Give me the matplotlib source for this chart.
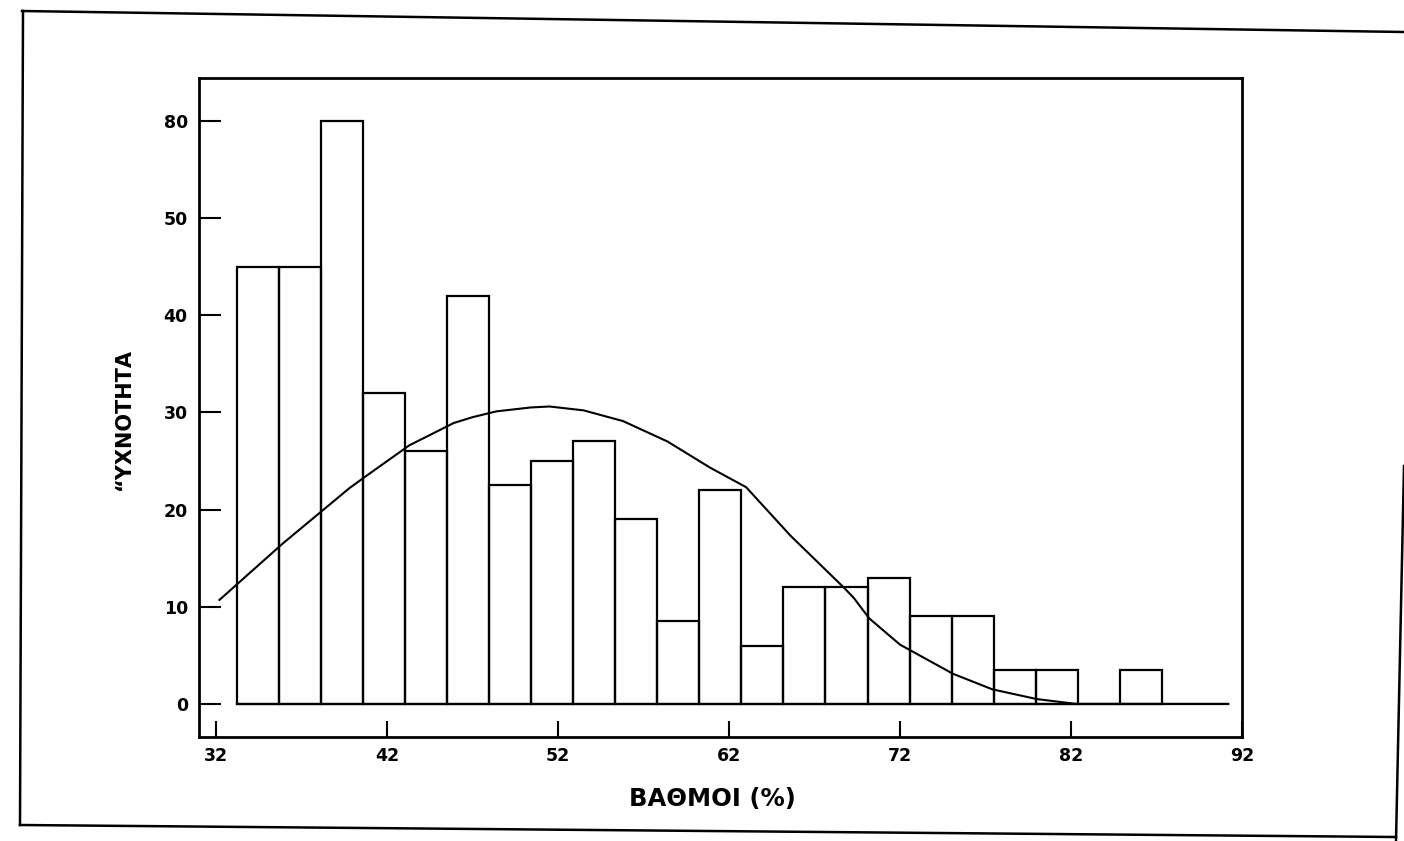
import matplotlib
matplotlib.use('Agg')
import matplotlib.pyplot as plt
from matplotlib.lines import Line2D
import numpy as np

# histogram data
bin_start = 33.2
bin_width = 2.46
counts = [45, 45, 60, 32, 26, 42, 22.5, 25, 27, 19, 8.5, 22,
          6, 12, 12, 13, 9, 9, 3.5, 3.5, 0, 3.5]

# hand drawn curve
curve_x = [32.2, 35.9, 39.8, 40.9, 43.3, 45.9, 47.0, 48.4, 50.4, 51.5, 53.5,
           55.8, 58.4, 60.9, 63.0, 65.6, 68.7, 69.3, 70.2, 72.0, 75.1,
           77.4, 80.0, 82.3, 91.2]
curve_y = [10.7, 16.5, 22.2, 23.6, 26.6, 28.9, 29.5, 30.1, 30.5, 30.6, 30.2,
           29.1, 27.0, 24.3, 22.3, 17.3, 12.0, 10.9, 8.8, 6.1, 3.1,
           1.5, 0.5, 0.0, 0.0]

x_ticks = [32, 42, 52, 62, 72, 82, 92]
y_ticks = [0, 10, 20, 30, 40, 50, 60]
y_tick_labels = ['0', '10', '20', '30', '40', '50', '80']

x_label = 'ΒΑΘΜΟΙ (%)'
y_label = '“ΥΧΝΟΤΗΤΑ'

plt.rcParams['font.family'] = ['DejaVu Sans']
plt.rcParams['font.weight'] = 'bold'

fig = plt.figure(figsize=(14.04, 8.41), dpi=100)
ax = fig.add_axes([0.1417, 0.1237, 0.7429, 0.7836])

lefts = bin_start + bin_width * np.arange(len(counts))
ax.bar(lefts, counts, width=bin_width, align='edge', fill=False,
       edgecolor='black', linewidth=1.6)
ax.plot([lefts[0], curve_x[-1]], [0, 0], color='black', linewidth=1.6)
ax.plot(curve_x, curve_y, color='black', linewidth=1.5,
        solid_joinstyle='round')

ax.set_xlim(31, 92)
ax.set_ylim(-3.4, 64.4)
ax.set_xticks(x_ticks)
ax.set_xticklabels([str(t) for t in x_ticks])
ax.set_yticks(y_ticks)
ax.set_yticklabels(y_tick_labels)

ax.tick_params(axis='y', direction='in', length=16, width=1.5, pad=8,
               labelsize=12.5)
ax.tick_params(axis='x', direction='in', length=11.5, width=1.5, pad=7,
               labelsize=12.5)
for lab in ax.get_xticklabels() + ax.get_yticklabels():
    lab.set_fontweight('bold')
for sp in ax.spines.values():
    sp.set_linewidth(2)

ax.set_xlabel(x_label, fontsize=17.5, fontweight='bold')
ax.set_ylabel(y_label, fontsize=15, fontweight='bold')
ax.xaxis.set_label_coords(0.492, -0.076)
ax.yaxis.set_label_coords(-0.062, 0.4826)

# page frame from the scanned sheet
W, H = 1404.0, 841.0
frame = [((22, 11), (1404, 32)),
         ((23, 11), (20, 825)),
         ((20, 825), (1396, 837)),
         ((1404, 466), (1396, 841))]
for (x0, y0), (x1, y1) in frame:
    fig.add_artist(Line2D([x0 / W, x1 / W], [1 - y0 / H, 1 - y1 / H],
                          transform=fig.transFigure, color='black',
                          linewidth=1.8))

fig.savefig('out.png', dpi=100)
